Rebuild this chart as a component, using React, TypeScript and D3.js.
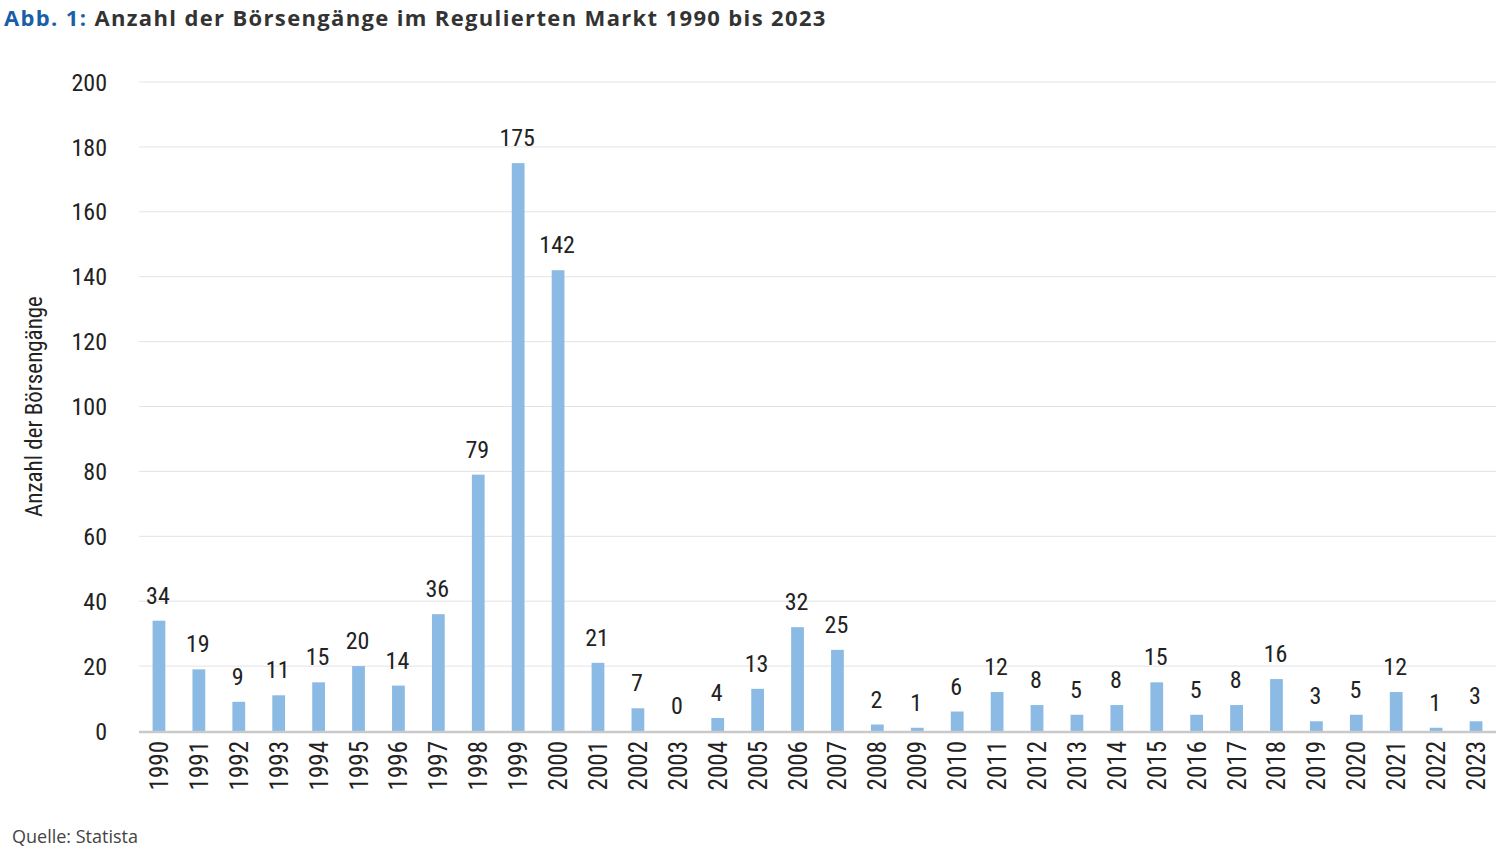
import { useEffect, useRef } from "react";
import * as d3 from "d3";

const years = [
  "1990", "1991", "1992", "1993", "1994", "1995", "1996", "1997", "1998", "1999",
  "2000", "2001", "2002", "2003", "2004", "2005", "2006", "2007", "2008", "2009",
  "2010", "2011", "2012", "2013", "2014", "2015", "2016", "2017", "2018", "2019",
  "2020", "2021", "2022", "2023",
];
const ipos = [
  34, 19, 9, 11, 15, 20, 14, 36, 79, 175,
  142, 21, 7, 0, 4, 13, 32, 25, 2, 1,
  6, 12, 8, 5, 8, 15, 5, 8, 16, 3,
  5, 12, 1, 3,
];
const yTicks = [0, 20, 40, 60, 80, 100, 120, 140, 160, 180, 200];

const W = 1507;
const H = 852;
const narrow = "'Liberation Sans Narrow', 'Arial Narrow', 'Roboto Condensed', sans-serif";

const App = () => {
  const ref = useRef<SVGSVGElement>(null);

  useEffect(() => {
    const svg = d3.select(ref.current);
    svg.selectAll("*").remove();

    const left = 139;
    const right = 1496;
    const top = 82;
    const bottom = 731;

    const x = d3.scaleBand<string>().domain(years).range([left, right]).paddingInner(0.68).paddingOuter(0.34);
    const y = d3.scaleLinear().domain([0, 200]).range([bottom, top]);

    // title
    const title = svg.append("text").attr("x", 4).attr("y", 26)
      .style("font-family", "'Open Sans', 'Noto Sans', sans-serif")
      .style("font-weight", "bold").style("font-size", "22px")
      .style("letter-spacing", "1.35px");
    title.append("tspan").attr("fill", "#1a5ea8").text("Abb. 1: ");
    title.append("tspan").attr("fill", "#333333").text("Anzahl der Börsengänge im Regulierten Markt 1990 bis 2023");

    // grid
    svg.append("g").selectAll("line").data(yTicks.filter((t) => t > 0)).join("line")
      .attr("x1", left).attr("x2", right)
      .attr("y1", (d) => y(d)).attr("y2", (d) => y(d))
      .attr("stroke", "#e3e3e3").attr("stroke-width", 1);

    // y tick labels
    svg.append("g").selectAll("text").data(yTicks).join("text")
      .attr("x", 107).attr("y", (d) => y(d)).attr("dy", "0.36em")
      .attr("text-anchor", "end")
      .style("font-family", narrow).style("font-size", "24px").attr("fill", "#222")
      .text((d) => d);

    // bars
    svg.append("g").selectAll("rect").data(ipos).join("rect")
      .attr("x", (_, i) => x(years[i])!)
      .attr("width", x.bandwidth())
      .attr("y", (d) => y(d))
      .attr("height", (d) => bottom - y(d))
      .attr("fill", "#8bbbe4");

    // baseline
    svg.append("line").attr("x1", left).attr("x2", right)
      .attr("y1", bottom + 1).attr("y2", bottom + 1)
      .attr("stroke", "#c9c9c9").attr("stroke-width", 2.5);

    // value labels
    svg.append("g").selectAll("text").data(ipos).join("text")
      .attr("x", (_, i) => x(years[i])! + x.bandwidth() / 2 - 1)
      .attr("y", (d) => y(d) - 17)
      .attr("text-anchor", "middle")
      .style("font-family", narrow).style("font-size", "24px").attr("fill", "#222")
      .text((d) => d);

    // year labels
    svg.append("g").selectAll("text").data(years).join("text")
      .attr("transform", (d) => `translate(${x(d)! + x.bandwidth() / 2},${bottom + 10}) rotate(-90)`)
      .attr("dy", "0.36em")
      .attr("text-anchor", "end")
      .style("font-family", narrow).style("font-size", "25px").attr("fill", "#222")
      .text((d) => d);

    // y axis title
    svg.append("text")
      .attr("transform", `translate(34,${(top + bottom) / 2}) rotate(-90)`)
      .attr("dy", "0.36em")
      .attr("text-anchor", "middle")
      .style("font-family", narrow).style("font-size", "23px").attr("fill", "#222")
      .text("Anzahl der Börsengänge");

    // source
    svg.append("text").attr("x", 12).attr("y", 843)
      .style("font-family", "'Open Sans', 'Noto Sans', sans-serif")
      .style("font-size", "18px").attr("fill", "#444")
      .text("Quelle: Statista");
  }, []);

  return (
    <svg ref={ref} width={W} height={H}
      style={{ position: "absolute", left: 0, top: 0, background: "#fff" }} />
  );
};

export default App;
